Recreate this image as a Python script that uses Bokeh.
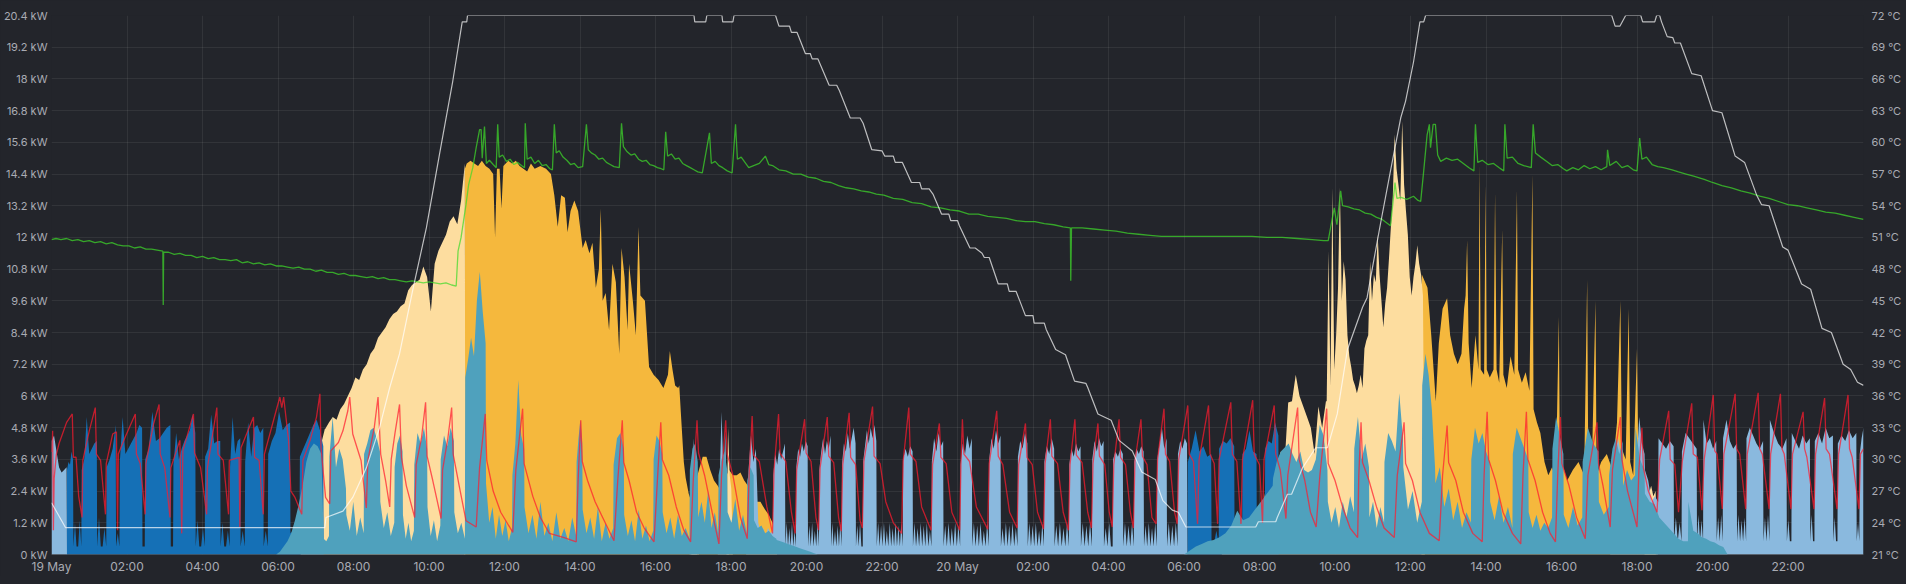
from bokeh.plotting import figure
from bokeh.models import Range1d, LinearAxis, FixedTicker
from bokeh.embed import file_html
from bokeh.resources import INLINE

# ---------------- axes / ticks ----------------
x_ticks = [0, 2, 4, 6, 8, 10, 12, 14, 16, 18, 20, 22, 24, 26, 28, 30, 32, 34, 36, 38, 40, 42, 44, 46]
x_labels = ["19 May", "02:00", "04:00", "06:00", "08:00", "10:00", "12:00", "14:00", "16:00", "18:00",
            "20:00", "22:00", "20 May", "02:00", "04:00", "06:00", "08:00", "10:00", "12:00", "14:00",
            "16:00", "18:00", "20:00", "22:00"]
kw_ticks = [0, 1.2, 2.4, 3.6, 4.8, 6, 7.2, 8.4, 9.6, 10.8, 12, 13.2, 14.4, 15.6, 16.8, 18, 19.2, 20.4]
kw_labels = ["0 kW", "1.2 kW", "2.4 kW", "3.6 kW", "4.8 kW", "6 kW", "7.2 kW", "8.4 kW", "9.6 kW",
             "10.8 kW", "12 kW", "13.2 kW", "14.4 kW", "15.6 kW", "16.8 kW", "18 kW", "19.2 kW", "20.4 kW"]
c_ticks = [21, 24, 27, 30, 33, 36, 39, 42, 45, 48, 51, 54, 57, 60, 63, 66, 69, 72]
c_labels = ["21 °C", "24 °C", "27 °C", "30 °C", "33 °C", "36 °C", "39 °C", "42 °C", "45 °C", "48 °C",
            "51 °C", "54 °C", "57 °C", "60 °C", "63 °C", "66 °C", "69 °C", "72 °C"]

# ---------------- power series (kW), hours since 19 May 00:00 ----------------
# segments: (start hour, end hour, values read across the segment)
light_yellow_segments = [
    (6.60, 7.24, [0.0, 1.0, 2.0, 3.0, 4.0, 4.75]),
    (7.25, 10.95, [4.75, 5.0, 5.2, 5.1, 5.5, 5.7, 6.0, 6.3, 6.7, 6.6, 7.0, 7.2, 7.6, 7.8, 8.2, 8.4, 8.6, 8.9, 9.1,
                   9.2, 9.4, 9.5, 10.0, 10.2, 10.3, 10.4, 10.9, 10.5, 9.2, 11.0, 11.5, 11.8, 12.1, 12.6, 12.8, 12.5,
                   13.4, 14.8]),
    (10.96, 10.96, [0.0]),
    (16.95, 17.15, [0.0, 2.5, 3.0, 2.8, 0.0]),
    (17.88, 18.05, [0.0, 4.8, 3.0, 2.5, 0.0]),
    (31.00, 31.85, [0.0, 0.6, 0.9, 1.0, 1.1, 1.0]),
    (31.86, 33.76, [1.0, 1.2, 1.3, 2.5, 1.7, 2.0, 3.2, 3.9, 3.3, 5.75, 5.8, 6.8, 6.0, 5.6, 5.2, 4.8, 3.8, 5.6, 4.8,
                    5.8]),
    (33.78, 36.38, [5.8, 11.5, 6.4, 13.9, 7.0, 8.3, 10.1, 13.9, 9.6, 11.1, 10.4, 8.3, 7.5, 7.1, 6.6, 6.4, 6.1, 6.4,
                    6.8, 6.3, 7.8, 8.1, 8.3, 11.1, 9.6, 10.6, 10.3, 12.1, 10.6, 9.6, 8.6, 9.5, 10.1, 11.2, 12.4, 13.5,
                    15.9, 14.6, 14.0, 13.4, 16.4, 14.0, 13.0, 12.1, 10.5, 9.8, 10.5, 11.0, 11.7, 11.0, 10.6, 9.8,
                    0.0]),
    (42.20, 42.55, [0.0, 2.0, 2.3, 2.6, 2.2, 2.4, 0.0]),
]

orange_points = [
    (10.94, 0.0), (10.95, 14.6), (11.0, 14.8), (11.1, 14.9), (11.2, 14.8), (11.3, 14.7), (11.4, 14.9), (11.5, 14.7),
    (11.6, 14.6), (11.7, 14.4), (11.75, 12.0), (11.8, 14.6), (11.87, 14.6), (11.92, 13.1), (11.97, 14.7),
    (12.1, 14.9), (12.2, 14.8), (12.3, 14.9), (12.4, 14.7), (12.5, 14.6), (12.6, 14.5), (12.7, 14.8), (12.8, 14.6),
    (12.95, 14.7), (13.1, 14.6), (13.23, 14.4), (13.32, 13.6), (13.41, 12.4), (13.5, 13.6), (13.6, 13.5),
    (13.67, 12.2), (13.75, 13.0), (13.85, 13.4), (13.95, 13.0), (14.07, 11.6), (14.15, 11.9), (14.25, 11.4),
    (14.33, 11.8), (14.42, 10.1), (14.5, 10.8), (14.55, 13.1), (14.6, 9.6), (14.68, 9.9), (14.77, 8.5),
    (14.86, 11.0), (14.95, 10.3), (15.04, 7.6), (15.1, 11.6), (15.18, 10.5), (15.26, 8.5), (15.3, 11.0),
    (15.4, 9.6), (15.48, 8.3), (15.55, 12.4), (15.6, 9.8), (15.72, 9.6), (15.83, 7.1), (15.95, 6.8), (16.08, 6.6),
    (16.21, 6.3), (16.33, 6.8), (16.38, 7.7), (16.45, 7.0), (16.52, 6.4), (16.6, 6.3), (16.63, 6.4), (16.67, 5.4),
    (16.75, 3.5), (16.8, 2.9), (16.88, 2.3), (16.97, 1.9), (17.05, 2.7), (17.15, 3.2), (17.25, 3.7), (17.35, 3.7),
    (17.45, 3.2), (17.55, 2.8), (17.65, 2.6), (17.77, 2.3), (17.85, 2.9), (17.95, 3.2), (18.05, 3.0), (18.15, 3.0),
    (18.25, 3.1), (18.35, 2.8), (18.5, 2.5), (18.65, 2.0), (18.78, 2.0), (18.9, 1.7), (19.0, 1.5), (19.1, 1.2),
    (19.17, 0.8), (19.22, 0.0),
    (36.29, 0.0), (36.30, 10.6), (36.45, 10.1), (36.55, 8.3), (36.67, 5.8), (36.75, 8.0), (36.85, 9.3),
    (36.97, 9.7), (37.05, 8.3), (37.15, 7.6), (37.25, 7.2), (37.35, 7.6), (37.42, 9.3), (37.46, 9.8), (37.5, 11.9),
    (37.54, 8.0), (37.62, 6.3), (37.72, 8.3), (37.8, 7.0), (37.83, 14.8), (37.86, 7.0), (37.95, 6.8), (37.99, 14.0),
    (38.02, 7.0), (38.1, 6.7), (38.2, 7.0), (38.24, 13.7), (38.28, 7.0), (38.35, 6.5), (38.43, 12.3), (38.46, 6.8),
    (38.55, 6.3), (38.65, 7.5), (38.75, 6.8), (38.82, 13.8), (38.85, 7.0), (38.95, 6.5), (39.05, 6.9), (39.15, 6.2),
    (39.23, 14.4), (39.26, 5.5), (39.35, 5.0), (39.44, 4.6), (39.55, 3.5), (39.65, 3.0), (39.75, 3.3), (39.85, 2.8),
    (39.93, 9.0), (39.96, 3.0), (40.05, 3.3), (40.15, 2.8), (40.3, 3.2), (40.45, 3.5), (40.6, 3.0), (40.68, 10.4),
    (40.71, 3.2), (40.8, 3.0), (40.9, 9.6), (40.93, 3.0), (41.05, 3.5), (41.2, 3.8), (41.35, 3.2), (41.47, 5.0),
    (41.56, 9.6), (41.6, 4.0), (41.7, 3.6), (41.78, 9.3), (41.82, 3.5), (41.9, 3.0), (42.0, 7.8), (42.04, 3.0),
    (42.15, 2.5), (42.3, 1.5), (42.5, 0.0),
]

dark_blue_segments = [
    (0.40, 0.40, [0.0]),
    (0.41, 0.57, [3.2, 3.5, 3.4, 3.9, 3.6]),
    (0.58, 0.79, [0.3, 1.2, 0.3, 0.3, 1.3, 0.3]),
    (0.80, 1.20, [3.2, 3.6, 5.2, 3.8, 4.0, 4.2, 4.3]),
    (1.21, 1.45, [0.3, 1.4, 0.3, 0.3, 1.0, 0.3]),
    (1.46, 1.70, [3.3, 3.6, 4.0, 4.9]),
    (1.71, 1.80, [0.3, 0.8, 0.3]),
    (1.81, 2.40, [3.5, 5.2, 3.8, 4.0, 4.2, 4.4, 4.6, 4.9, 4.8]),
    (2.41, 2.47, [0.3, 0.3]),
    (2.48, 3.15, [3.6, 4.0, 5.4, 4.3, 4.4, 4.6, 4.8, 4.9]),
    (3.16, 3.22, [0.3, 0.3]),
    (3.23, 3.81, [3.4, 4.6, 3.6, 4.0, 4.3, 4.5, 4.7, 5.3, 4.6]),
    (3.82, 4.06, [0.3, 1.3, 0.3, 0.3, 1.0, 0.3]),
    (4.07, 4.47, [3.7, 4.0, 5.3, 4.2, 4.3, 4.3]),
    (4.48, 4.72, [0.3, 1.2, 0.3, 0.3, 0.9, 0.3]),
    (4.73, 5.00, [3.3, 5.2, 3.8, 4.3, 4.4]),
    (5.01, 5.12, [0.3, 0.9, 0.3]),
    (5.13, 5.61, [3.5, 5.0, 3.7, 4.8, 4.9, 4.6, 4.8]),
    (5.62, 5.73, [0.3, 0.9, 0.3]),
    (5.74, 6.32, [3.8, 4.3, 4.6, 5.4, 4.7, 4.9, 5.0]),
    (6.33, 6.57, [0.8, 0.9, 1.2, 1.4]),
    (6.58, 7.20, [3.7, 4.0, 4.3, 4.6, 4.9, 5.1, 4.7, 4.1]),
    (7.21, 7.21, [0.0]),
    (30.09, 30.09, [0.0]),
    (30.10, 30.72, [3.5, 4.0, 4.7, 3.9, 4.1, 3.7, 3.8]),
    (30.73, 30.92, [0.4, 0.4, 0.9, 0.4]),
    (30.93, 31.33, [4.0, 4.3, 4.2, 4.4, 4.1]),
    (31.34, 31.54, [0.5, 0.5, 0.5]),
    (31.55, 31.92, [3.8, 4.0, 4.7, 3.9, 3.8]),
    (31.93, 32.14, [0.5, 0.5, 0.5]),
    (32.15, 32.50, [4.0, 4.3, 4.2, 5.0, 4.5]),
    (32.51, 32.51, [0.0]),
]

light_blue_segments = [
    (0.00, 0.40, [4.3, 4.5, 3.9, 3.3, 3.1, 3.2, 3.3]),
    (0.41, 0.41, [0.0]),
    (16.90, 17.10, [0.0, 2.5, 4.4, 2.0, 0.0]),
    (17.65, 17.95, [0.0, 2.8, 5.4, 3.0, 4.6, 1.0, 0.0]),
    (18.40, 19.11, [0.0, 3.2, 4.5, 3.5, 4.0, 1.2, 0.8, 1.0, 0.7, 1.0, 0.8, 0.9]),
    (19.12, 19.43, [3.0, 3.8, 3.4, 4.0, 3.6, 3.9, 4.2]),
    (19.44, 19.72, [0.3, 1.2, 0.3, 1.0, 0.3, 1.2, 0.3, 0.9, 0.3]),
    (19.73, 20.03, [3.3, 4.0, 3.7, 4.2, 3.9, 4.3, 4.1]),
    (20.04, 20.33, [0.3, 1.1, 0.3, 1.2, 0.3, 0.9, 0.3, 1.2, 0.3]),
    (20.34, 20.64, [3.2, 3.9, 4.4, 3.8, 4.3, 4.0, 4.5]),
    (20.65, 20.93, [0.3, 1.2, 0.3, 0.9, 0.3, 1.1, 0.3, 1.2, 0.3]),
    (20.94, 21.30, [3.4, 4.2, 3.9, 4.6, 4.0, 4.4, 4.8, 4.2]),
    (21.31, 21.49, [0.3, 1.1, 0.3, 1.2, 0.3, 0.3]),
    (21.50, 21.85, [3.5, 4.1, 4.7, 4.2, 4.8, 4.4, 4.9, 4.3]),
    (21.86, 22.55, [0.3, 1.2, 0.3, 1.1, 0.3, 1.2, 0.3, 0.9, 0.3, 1.2, 0.3, 1.0, 0.3, 1.2, 0.3, 1.1, 0.3, 1.2, 0.3]),
    (22.56, 22.81, [3.6, 4.0, 3.7, 4.1, 3.9]),
    (22.82, 23.31, [0.3, 1.2, 0.3, 1.0, 0.3, 1.2, 0.3, 1.1, 0.3, 1.2, 0.3, 0.9, 0.3]),
    (23.32, 23.62, [3.5, 4.4, 3.9, 4.6, 4.1, 4.3]),
    (23.63, 24.07, [0.3, 1.1, 0.3, 1.2, 0.3, 1.0, 0.3, 1.2, 0.3, 1.1, 0.3]),
    (24.08, 24.38, [3.4, 4.2, 3.8, 4.5, 4.0, 4.4]),
    (24.39, 24.83, [0.3, 1.2, 0.3, 1.1, 0.3, 1.2, 0.3, 0.9, 0.3, 1.2, 0.3]),
    (24.84, 25.14, [3.6, 4.4, 4.0, 4.7, 4.2, 4.5]),
    (25.15, 25.59, [0.3, 1.0, 0.3, 1.2, 0.3, 1.1, 0.3, 1.2, 0.3, 1.0, 0.3]),
    (25.60, 25.85, [3.7, 4.3, 4.0, 4.6, 4.2]),
    (25.86, 26.29, [0.3, 1.2, 0.3, 1.1, 0.3, 1.2, 0.3, 0.9, 0.3, 1.2, 0.3]),
    (26.30, 26.56, [3.5, 4.1, 3.8, 4.4, 4.0]),
    (26.57, 26.95, [0.3, 1.1, 0.3, 1.2, 0.3, 1.0, 0.3, 1.2, 0.3]),
    (26.96, 27.26, [3.4, 4.0, 3.7, 4.2, 3.9, 4.1]),
    (27.27, 27.56, [0.3, 1.2, 0.3, 1.1, 0.3, 1.2, 0.3]),
    (27.57, 27.87, [3.6, 4.3, 3.9, 4.4, 4.1, 4.3]),
    (27.88, 28.11, [0.3, 1.0, 0.3, 1.2, 0.3, 0.3]),
    (28.12, 28.38, [3.6, 3.9, 3.7, 4.0, 3.8]),
    (28.39, 28.67, [0.3, 1.2, 0.3, 1.1, 0.3, 1.2, 0.3]),
    (28.68, 28.93, [3.5, 4.0, 3.8, 4.1, 3.9]),
    (28.94, 29.28, [0.3, 1.1, 0.3, 1.2, 0.3, 1.0, 0.3, 1.2, 0.3]),
    (29.29, 29.54, [3.6, 4.2, 4.8, 4.0, 4.4]),
    (29.55, 29.83, [0.3, 1.2, 0.3, 1.1, 0.3, 1.2, 0.3]),
    (29.84, 30.08, [3.8, 4.3, 4.0, 4.4, 4.2]),
    (30.09, 30.09, [0.0]),
    (41.29, 41.60, [0.0, 2.5, 4.2, 3.8, 4.4, 4.0, 3.6]),
    (41.61, 41.98, [0.5, 0.5, 0.5]),
    (41.99, 42.20, [3.5, 5.2, 4.2, 3.8]),
    (42.21, 42.56, [3.2, 2.8, 2.0, 2.2, 2.0]),
    (42.57, 42.97, [4.4, 4.2, 4.0, 4.3, 4.1]),
    (42.98, 43.18, [0.5, 1.4, 0.5, 1.2, 0.5]),
    (43.19, 43.58, [3.9, 4.6, 4.4, 4.2, 4.0]),
    (43.59, 43.75, [0.5, 1.5, 0.5, 1.3, 0.5]),
    (43.76, 44.10, [5.1, 4.2, 4.4, 4.0, 4.3]),
    (44.11, 44.27, [0.5, 1.4, 0.5, 1.5, 0.5]),
    (44.28, 44.64, [4.4, 5.1, 4.3, 4.0, 4.2]),
    (44.65, 44.89, [0.5, 1.5, 0.5, 1.3, 0.5, 1.4, 0.5]),
    (44.90, 45.34, [4.4, 4.8, 4.5, 4.2, 4.0, 4.3]),
    (45.35, 45.51, [0.5, 1.4, 0.5, 1.5, 0.5]),
    (45.52, 45.96, [5.1, 4.6, 4.2, 4.0, 4.4]),
    (45.97, 46.09, [0.5, 1.3, 0.5, 0.5]),
    (46.10, 46.58, [4.6, 4.3, 4.0, 4.5, 4.2, 4.4]),
    (46.59, 46.70, [0.5, 1.5, 0.5, 0.5]),
    (46.71, 47.19, [4.3, 4.6, 4.2, 4.8, 4.4, 4.5]),
    (47.20, 47.31, [0.5, 1.4, 0.5, 0.5]),
    (47.32, 47.81, [4.2, 4.5, 4.3, 4.7, 4.4, 4.6]),
    (47.82, 47.89, [0.5, 1.2, 0.5]),
    (47.90, 48.00, [3.8, 4.4, 4.8]),
]

teal_segments = [
    (5.95, 7.15, [0.0, 0.1, 0.3, 0.5, 0.8, 1.3, 1.9, 2.6, 3.5, 4.0, 4.2, 4.1, 3.8]),
    (7.21, 7.35, [0.6, 0.5, 0.7]),
    (7.36, 7.80, [3.7, 5.2, 3.3, 4.0, 3.6, 2.5]),
    (7.81, 8.27, [1.5, 0.9, 2.0, 0.7, 1.4, 0.8]),
    (8.28, 8.70, [3.8, 4.2, 4.7, 4.8, 4.4, 3.9]),
    (8.71, 9.08, [2.0, 1.0, 1.6, 0.7, 1.2]),
    (9.09, 9.30, [3.3, 4.2, 4.5, 3.9]),
    (9.31, 9.60, [1.5, 0.6, 1.2, 0.5, 0.9]),
    (9.61, 9.95, [3.4, 4.6, 4.2, 4.8, 4.0]),
    (9.96, 10.30, [1.8, 0.7, 1.3, 0.5, 1.1]),
    (10.31, 10.66, [3.6, 4.5, 4.1, 4.8, 4.3]),
    (10.67, 10.95, [1.6, 0.8, 1.2, 0.6]),
    (10.96, 11.50, [6.7, 7.4, 8.2, 7.5, 9.6, 10.7, 9.2, 8.0]),
    (11.51, 12.20, [2.7, 1.2, 1.8, 0.6, 1.5, 0.7, 1.3, 0.5, 1.0]),
    (12.21, 12.52, [3.0, 4.2, 6.6, 4.5, 4.0]),
    (12.53, 13.90, [1.8, 0.8, 1.5, 0.6, 2.0, 0.7, 1.2, 0.5, 1.6, 0.6, 1.0, 0.5, 1.4, 0.7]),
    (13.91, 14.06, [3.5, 4.4, 5.1, 4.2]),
    (14.07, 14.88, [1.7, 0.8, 1.4, 0.6, 1.8, 0.5, 1.2, 0.6, 1.0]),
    (14.89, 15.16, [3.4, 4.4, 4.6, 4.0]),
    (15.17, 15.94, [1.5, 0.7, 1.3, 0.5, 1.7, 0.6, 1.1, 0.5, 0.9]),
    (15.95, 16.18, [3.6, 4.5, 4.3, 3.8]),
    (16.19, 16.90, [1.6, 0.8, 1.4, 0.6, 1.5, 0.7, 1.0, 0.6]),
    (16.91, 17.12, [3.2, 4.0, 4.2, 3.5]),
    (17.13, 17.66, [1.4, 2.0, 1.2, 2.4, 1.0, 1.6, 0.8]),
    (17.67, 17.90, [3.0, 3.6, 3.9, 3.2]),
    (17.91, 18.42, [1.6, 1.2, 2.1, 0.9, 1.5, 0.8]),
    (18.43, 18.60, [2.8, 3.3, 3.0]),
    (18.61, 19.20, [1.3, 1.0, 1.1, 0.8, 0.9, 0.7, 0.6]),
    (19.21, 20.30, [0.55, 0.5, 0.45, 0.4, 0.35, 0.3, 0.25, 0.2, 0.15, 0.1, 0.05, 0.0]),
    (30.00, 32.35, [0.0, 0.15, 0.3, 0.4, 0.5, 0.55, 0.65, 0.8, 1.1, 1.66, 1.3, 1.4, 1.7, 2.0, 2.3, 2.6]),
    (32.36, 33.80, [2.9, 3.55, 3.9, 4.05, 4.2, 3.8, 3.5, 3.9, 3.2, 3.1, 3.2, 3.6, 4.9, 4.5, 3.2]),
    (33.81, 34.50, [2.0, 1.2, 1.8, 1.0, 2.0, 1.4, 2.2, 1.6]),
    (34.51, 34.90, [4.0, 5.2, 3.6, 4.2, 3.3]),
    (34.91, 35.30, [1.4, 2.0, 1.0, 1.8, 1.2]),
    (35.31, 35.80, [3.5, 4.6, 4.3, 3.9, 6.1, 4.4]),
    (35.81, 36.30, [3.3, 1.7, 2.4, 1.2, 2.0]),
    (36.31, 36.65, [6.4, 7.6, 6.8, 5.5, 3.3]),
    (36.66, 37.60, [2.7, 3.3, 1.8, 2.5, 1.3, 2.0, 1.0, 1.6, 1.2]),
    (37.61, 38.10, [3.6, 4.8, 4.2, 4.6, 3.9, 3.5]),
    (38.11, 38.70, [2.0, 1.3, 2.2, 1.2, 1.8, 1.0]),
    (38.71, 39.12, [3.8, 4.8, 4.4, 4.0, 3.6]),
    (39.13, 39.75, [1.6, 1.0, 1.5, 0.9, 1.2, 1.0, 1.4]),
    (39.76, 40.05, [4.0, 5.2, 4.5, 3.8]),
    (40.06, 40.55, [1.5, 1.0, 1.8, 1.1, 1.4]),
    (40.56, 40.98, [3.5, 4.8, 4.2, 3.9]),
    (40.99, 41.25, [2.0, 1.5, 1.8]),
    (41.26, 41.62, [3.0, 4.0, 4.4, 3.8, 4.3]),
    (41.63, 41.95, [2.6, 3.2, 2.8, 3.0]),
    (41.96, 42.20, [4.8, 3.6, 3.2]),
    (42.21, 43.35, [2.3, 2.0, 1.9, 1.4, 1.2, 1.0, 0.8, 0.6, 0.5, 0.5]),
    (43.36, 43.48, [2.0, 1.0]),
    (43.49, 44.40, [0.9, 0.8, 0.65, 0.6, 0.5, 0.45, 0.35, 0.28, 0.0]),
]

# ---------------- temperatures (°C, right axis) ----------------
red_points = [
    (0, 30.7), (0.03, 32.7), (0.05, 23.3), (0.07, 28.2), (0.13, 30.5), (0.2, 31.5), (0.3, 32.5), (0.4, 33.5),
    (0.55, 34.3), (0.58, 30.2), (0.65, 30.2), (0.72, 26.5), (0.81, 24.5), (0.83, 29.9), (1.0, 32.7), (1.16, 34.9),
    (1.19, 30.5), (1.3, 29.9), (1.43, 24.8), (1.45, 29.6), (1.62, 32.4), (1.72, 32.6), (1.75, 23.3), (1.77, 30.5),
    (1.95, 32.1), (2.22, 34.3), (2.25, 30.5), (2.35, 29.6), (2.48, 24.8), (2.5, 29.6), (2.7, 33.3), (2.85, 35.2),
    (2.88, 30.5), (3.0, 29.2), (3.14, 24.5), (3.16, 29.2), (3.4, 31.8), (3.45, 23.0), (3.48, 30.8), (3.76, 34.3),
    (3.79, 30.6), (3.95, 29.2), (4.11, 24.8), (4.13, 29.2), (4.38, 34.9), (4.41, 30.5), (4.55, 29.9), (4.69, 24.8),
    (4.71, 29.9), (4.97, 30.2), (4.99, 23.6), (5.02, 31.1), (5.35, 34.0), (5.38, 30.2), (5.5, 29.9), (5.61, 24.8),
    (5.64, 30.5), (5.95, 34.6), (6.05, 35.9), (6.1, 34.9), (6.15, 35.9), (6.28, 31.8), (6.34, 27.0), (6.45, 26.4),
    (6.63, 24.8), (6.66, 29.9), (6.85, 31.8), (7.02, 34.0), (7.11, 36.2), (7.14, 31.1), (7.26, 26.4), (7.37, 25.8),
    (7.4, 30.8), (7.6, 31.6), (7.72, 32.7), (7.85, 34.6), (7.9, 35.9), (7.98, 32.4), (8.2, 29.9), (8.34, 25.4),
    (8.38, 29.9), (8.55, 33.0), (8.65, 35.9), (8.72, 30.5), (8.85, 28.0), (8.96, 25.5), (9.0, 30.0), (9.1, 32.5),
    (9.22, 35.2), (9.27, 30.2), (9.4, 27.5), (9.62, 24.5), (9.66, 29.5), (9.8, 32.0), (9.91, 35.4), (9.95, 30.3),
    (10.1, 28.0), (10.32, 24.4), (10.36, 29.0), (10.5, 32.0), (10.6, 34.9), (10.64, 30.5), (10.8, 27.5),
    (10.98, 24.2), (11.25, 23.6), (11.34, 29.2), (11.49, 34.3), (11.53, 29.9), (11.7, 27.0), (11.9, 25.0),
    (12.22, 23.1), (12.3, 29.0), (12.48, 34.8), (12.52, 29.6), (12.75, 26.5), (12.95, 24.5), (13.19, 23.0),
    (13.58, 22.6), (13.9, 22.2), (13.95, 28.0), (14.02, 33.7), (14.06, 29.8), (14.2, 28.0), (14.4, 26.0),
    (14.6, 24.5), (14.9, 22.3), (15.0, 28.0), (15.12, 33.7), (15.16, 29.7), (15.3, 28.0), (15.5, 25.0),
    (15.7, 23.5), (15.96, 22.2), (16.05, 28.0), (16.14, 33.5), (16.18, 30.0), (16.35, 28.5), (16.55, 25.5),
    (16.75, 23.3), (16.93, 22.2), (17.0, 28.0), (17.1, 33.7), (17.14, 30.6), (17.3, 28.5), (17.5, 25.0),
    (17.68, 22.0), (17.75, 28.5), (17.86, 33.7), (17.9, 30.5), (18.05, 28.5), (18.25, 24.5), (18.43, 22.5),
    (18.48, 28.5), (18.56, 34.1), (18.6, 30.4), (18.75, 29.8), (18.95, 25.5), (19.1, 23.0), (19.14, 29.0),
    (19.26, 34.3), (19.3, 30.6), (19.45, 29.8), (19.6, 25.0), (19.7, 23.0), (19.74, 29.0), (19.95, 33.8),
    (19.99, 30.6), (20.12, 29.8), (20.25, 24.5), (20.32, 23.3), (20.36, 29.2), (20.55, 34.0), (20.59, 30.3),
    (20.72, 29.7), (20.85, 24.5), (20.92, 23.2), (20.96, 29.5), (21.13, 34.4), (21.17, 30.2), (21.3, 29.5),
    (21.42, 24.2), (21.48, 23.5), (21.52, 29.8), (21.75, 35.0), (21.79, 30.3), (21.95, 29.6), (22.1, 26.0),
    (22.3, 24.0), (22.52, 23.0), (22.56, 29.8), (22.71, 34.9), (22.75, 30.5), (22.9, 29.8), (23.05, 25.5),
    (23.3, 23.3), (23.34, 29.5), (23.52, 33.4), (23.56, 30.2), (23.7, 29.6), (23.85, 25.0), (24.06, 23.3),
    (24.09, 29.5), (24.13, 33.8), (24.17, 30.5), (24.32, 29.8), (24.5, 25.5), (24.8, 23.4), (24.84, 29.6),
    (25.04, 34.6), (25.08, 30.3), (25.2, 29.5), (25.38, 25.0), (25.58, 23.5), (25.62, 29.5), (25.8, 33.4),
    (25.84, 30.2), (25.98, 29.5), (26.12, 25.0), (26.28, 23.4), (26.32, 29.6), (26.46, 33.8), (26.5, 30.3),
    (26.65, 29.6), (26.8, 25.0), (26.94, 23.3), (26.98, 29.5), (27.11, 33.8), (27.15, 30.4), (27.3, 29.7),
    (27.45, 25.0), (27.55, 23.5), (27.59, 29.6), (27.72, 33.4), (27.76, 30.3), (27.9, 29.5), (28.02, 25.0),
    (28.1, 23.6), (28.14, 29.5), (28.28, 33.8), (28.32, 30.2), (28.45, 29.5), (28.58, 25.0), (28.66, 23.5),
    (28.7, 29.8), (28.86, 33.8), (28.9, 30.3), (29.02, 29.5), (29.15, 24.5), (29.26, 23.9), (29.3, 30.0),
    (29.47, 34.8), (29.51, 30.5), (29.62, 29.8), (29.75, 25.0), (29.82, 23.9), (29.86, 30.0), (30.1, 35.1),
    (30.14, 30.5), (30.25, 29.8), (30.36, 23.9), (30.4, 30.0), (30.65, 35.1), (30.69, 30.5), (30.8, 29.6),
    (30.89, 23.9), (30.93, 30.0), (31.24, 35.4), (31.28, 30.5), (31.4, 29.8), (31.51, 23.9), (31.55, 30.0),
    (31.82, 35.6), (31.86, 30.5), (32.0, 29.5), (32.08, 24.0), (32.12, 30.0), (32.39, 35.1), (32.43, 30.5),
    (32.55, 29.0), (32.7, 24.4), (32.75, 28.5), (33.01, 34.9), (33.05, 30.0), (33.2, 28.0), (33.35, 25.0),
    (33.5, 23.6), (33.6, 28.5), (33.78, 34.8), (33.82, 29.6), (34.0, 28.0), (34.2, 25.5), (34.4, 23.5),
    (34.6, 22.6), (34.63, 28.5), (34.69, 33.5), (34.73, 29.7), (34.9, 28.0), (35.1, 25.5), (35.3, 23.5),
    (35.57, 22.6), (35.65, 28.5), (35.83, 33.5), (35.87, 29.6), (36.05, 28.0), (36.25, 25.0), (36.5, 23.0),
    (36.76, 22.3), (36.85, 28.5), (36.97, 33.2), (37.01, 29.7), (37.2, 28.0), (37.4, 25.0), (37.65, 23.0),
    (37.9, 22.2), (37.95, 28.5), (38.03, 34.5), (38.07, 30.0), (38.25, 28.0), (38.45, 25.0), (38.7, 23.0),
    (38.92, 22.0), (38.98, 28.5), (39.07, 34.5), (39.11, 30.0), (39.3, 28.0), (39.5, 25.0), (39.7, 23.0),
    (39.84, 22.2), (39.9, 28.5), (39.97, 34.0), (40.01, 29.6), (40.2, 27.5), (40.4, 24.5), (40.63, 22.5),
    (40.7, 28.5), (40.94, 33.5), (40.98, 29.6), (41.1, 27.5), (41.29, 23.6), (41.35, 29.0), (41.56, 34.0),
    (41.6, 30.0), (41.75, 27.0), (42.0, 23.6), (42.05, 29.0), (42.13, 33.0), (42.17, 29.2), (42.3, 27.0),
    (42.53, 25.0), (42.6, 30.0), (42.84, 34.6), (42.88, 30.0), (43.0, 29.5), (43.1, 25.0), (43.2, 29.8),
    (43.45, 35.3), (43.49, 30.5), (43.6, 30.2), (43.72, 25.2), (43.78, 30.0), (44.02, 36.1), (44.06, 30.8),
    (44.12, 30.5), (44.26, 25.3), (44.3, 30.5), (44.6, 36.2), (44.64, 31.0), (44.72, 30.5), (44.88, 25.3),
    (44.92, 30.5), (45.21, 36.3), (45.25, 31.0), (45.32, 30.5), (45.5, 25.3), (45.54, 30.5), (45.8, 36.2),
    (45.84, 31.0), (45.9, 30.5), (46.08, 25.3), (46.12, 30.5), (46.4, 34.5), (46.44, 31.0), (46.5, 30.2),
    (46.69, 25.3), (46.73, 30.5), (46.97, 35.8), (47.01, 31.0), (47.1, 30.5), (47.3, 25.3), (47.34, 30.5),
    (47.59, 36.1), (47.63, 31.0), (47.7, 30.2), (47.88, 25.3), (47.92, 30.5), (48.0, 31.0),
]

green_points = [
    (0.0, 50.8), (0.12, 50.9), (0.25, 50.8), (0.4, 50.9), (0.55, 50.7), (0.7, 50.8), (0.85, 50.6), (1.0, 50.7),
    (1.15, 50.5), (1.3, 50.6), (1.45, 50.4), (1.6, 50.5), (1.75, 50.3), (1.9, 50.2), (2.05, 50.2), (2.2, 50.0),
    (2.35, 50.1), (2.5, 49.9), (2.65, 49.9), (2.8, 49.8), (2.95, 49.7), (2.96, 44.6), (2.97, 49.6), (3.1, 49.6),
    (3.25, 49.4), (3.4, 49.5), (3.55, 49.3), (3.7, 49.3), (3.85, 49.1), (4.0, 49.2), (4.15, 49.0), (4.3, 49.1),
    (4.45, 48.9), (4.6, 48.9), (4.75, 48.8), (4.9, 48.9), (5.05, 48.6), (5.2, 48.7), (5.35, 48.5), (5.5, 48.6),
    (5.65, 48.4), (5.8, 48.5), (5.95, 48.3), (6.1, 48.3), (6.25, 48.2), (6.4, 48.1), (6.55, 48.2), (6.7, 48.0),
    (6.85, 48.0), (7.0, 47.8), (7.15, 47.9), (7.3, 47.7), (7.45, 47.7), (7.6, 47.5), (7.75, 47.6), (7.9, 47.4),
    (8.05, 47.4), (8.2, 47.3), (8.35, 47.2), (8.5, 47.3), (8.65, 47.1), (8.8, 47.2), (8.95, 47.0), (9.1, 47.0),
    (9.25, 46.9), (9.4, 46.8), (9.55, 46.9), (9.7, 46.8), (9.85, 46.7), (10.0, 46.8), (10.15, 46.7), (10.3, 46.6),
    (10.45, 46.7), (10.6, 46.5), (10.72, 46.4), (10.77, 49.7), (10.85, 51.0), (10.98, 54.1), (11.05, 56.0),
    (11.16, 57.6), (11.25, 59.5), (11.34, 61.2), (11.38, 61.2), (11.41, 58.5), (11.47, 61.5), (11.52, 58.0),
    (11.6, 58.3), (11.7, 57.9), (11.78, 57.6), (11.82, 61.7), (11.86, 58.6), (11.95, 58.8), (12.05, 58.2),
    (12.15, 58.4), (12.25, 57.9), (12.35, 58.1), (12.45, 57.8), (12.53, 57.6), (12.55, 61.8), (12.6, 58.4),
    (12.7, 58.6), (12.8, 58.0), (12.9, 58.3), (13.0, 57.8), (13.1, 57.9), (13.2, 57.5), (13.27, 57.4),
    (13.32, 61.7), (13.37, 59.0), (13.45, 59.2), (13.55, 58.6), (13.65, 58.3), (13.75, 57.9), (13.85, 58.0),
    (13.95, 57.6), (14.07, 57.7), (14.17, 61.7), (14.22, 59.3), (14.3, 59.0), (14.4, 58.8), (14.5, 58.4),
    (14.6, 58.5), (14.7, 58.1), (14.8, 57.9), (14.9, 57.7), (15.04, 57.6), (15.1, 61.8), (15.15, 59.6),
    (15.25, 59.1), (15.35, 58.8), (15.45, 58.9), (15.55, 58.4), (15.65, 58.2), (15.75, 58.3), (15.85, 57.9),
    (15.95, 57.8), (16.05, 57.6), (16.15, 57.5), (16.22, 57.4), (16.27, 61.0), (16.32, 58.7), (16.42, 58.9),
    (16.52, 58.4), (16.62, 58.5), (16.72, 58.0), (16.82, 57.8), (16.92, 57.6), (17.02, 57.4), (17.12, 57.2),
    (17.24, 57.1), (17.43, 60.9), (17.48, 58.0), (17.58, 58.2), (17.68, 57.8), (17.78, 57.6), (17.9, 57.3),
    (18.03, 57.1), (18.12, 61.7), (18.17, 58.4), (18.27, 58.6), (18.37, 58.1), (18.47, 57.6), (18.6, 57.8),
    (18.75, 58.0), (18.91, 58.7), (19.0, 57.9), (19.1, 57.8), (19.27, 57.4), (19.45, 57.3), (19.65, 57.0),
    (19.85, 57.0), (20.05, 56.7), (20.25, 56.6), (20.45, 56.3), (20.65, 56.2), (20.85, 55.9), (21.05, 55.7),
    (21.25, 55.6), (21.45, 55.4), (21.65, 55.3), (21.85, 55.1), (22.05, 55.0), (22.3, 54.7), (22.55, 54.6),
    (22.8, 54.3), (23.05, 54.2), (23.3, 53.9), (23.55, 53.8), (23.8, 53.6), (24.05, 53.5), (24.3, 53.2),
    (24.55, 53.2), (24.8, 53.0), (25.05, 52.9), (25.3, 52.8), (25.55, 52.6), (25.8, 52.5), (26.05, 52.5),
    (26.3, 52.3), (26.55, 52.2), (26.8, 52.0), (26.99, 51.9), (27.0, 46.9), (27.02, 51.9), (27.3, 51.9),
    (27.6, 51.8), (27.9, 51.7), (28.2, 51.6), (28.5, 51.4), (28.8, 51.3), (29.1, 51.2), (29.4, 51.1),
    (29.8, 51.1), (30.3, 51.1), (30.8, 51.1), (31.3, 51.1), (31.8, 51.1), (32.2, 51.0), (32.6, 51.0),
    (33.0, 50.9), (33.4, 50.8), (33.7, 50.7), (33.82, 50.7), (33.98, 53.8), (34.05, 52.2), (34.15, 55.4),
    (34.2, 54.0), (34.35, 53.9), (34.5, 53.7), (34.65, 53.6), (34.8, 53.3), (34.95, 53.2), (35.1, 52.9),
    (35.25, 52.7), (35.4, 52.3), (35.47, 52.1), (35.59, 56.2), (35.64, 54.7), (35.75, 54.8), (35.9, 54.6),
    (36.08, 54.9), (36.2, 54.5), (36.27, 54.4), (36.35, 57.3), (36.44, 60.7), (36.5, 61.7), (36.53, 59.5),
    (36.6, 61.7), (36.66, 61.7), (36.72, 58.8), (36.8, 58.2), (36.95, 58.5), (37.1, 58.3), (37.25, 58.4),
    (37.4, 58.0), (37.55, 57.6), (37.68, 57.3), (37.72, 61.7), (37.78, 58.1), (37.9, 58.3), (38.05, 57.9),
    (38.2, 58.0), (38.35, 57.6), (38.47, 57.3), (38.5, 61.7), (38.56, 58.5), (38.7, 58.6), (38.85, 58.0),
    (39.0, 57.8), (39.2, 57.6), (39.25, 61.7), (39.31, 59.0), (39.45, 58.6), (39.6, 58.2), (39.75, 57.8),
    (39.9, 57.9), (40.05, 57.5), (40.14, 57.3), (40.3, 57.6), (40.45, 57.4), (40.6, 57.8), (40.75, 57.5),
    (40.9, 57.7), (41.05, 57.4), (41.2, 57.7), (41.22, 59.3), (41.28, 57.8), (41.45, 58.2), (41.6, 57.6),
    (41.75, 57.8), (41.9, 57.4), (42.0, 57.3), (42.07, 60.4), (42.13, 58.4), (42.25, 58.6), (42.4, 57.9),
    (42.55, 57.7), (42.7, 57.6), (42.93, 57.4), (43.1, 57.2), (43.3, 57.0), (43.5, 56.8), (43.78, 56.5),
    (44.0, 56.2), (44.25, 55.9), (44.5, 55.7), (44.75, 55.4), (45.0, 55.2), (45.25, 54.9), (45.5, 54.7),
    (45.75, 54.4), (46.0, 54.1), (46.25, 54.0), (46.5, 53.8), (46.75, 53.6), (47.0, 53.4), (47.25, 53.3),
    (47.5, 53.1), (47.75, 52.9), (48.0, 52.7),
]

white_points = [
    (0.0, 25.9), (0.37, 23.55), (7.24, 23.55), (7.27, 24.5), (7.72, 25.1), (7.98, 26.4), (8.34, 29.2),
    (8.69, 33.0), (8.96, 36.8), (9.22, 40.0), (9.58, 46.2), (9.93, 51.9), (10.28, 58.9), (10.63, 65.8),
    (10.88, 71.4), (11.0, 71.4), (11.02, 72.0), (17.02, 72.0), (17.04, 71.4), (17.33, 71.4), (17.36, 72.0),
    (17.76, 72.0), (17.78, 71.4), (18.05, 71.4), (18.08, 72.0), (19.18, 72.0), (19.27, 71.0), (19.55, 71.0),
    (19.6, 70.4), (19.75, 70.4), (19.97, 68.4), (20.1, 68.4), (20.15, 67.9), (20.3, 67.9), (20.6, 65.4),
    (20.8, 65.4), (20.87, 64.9), (21.16, 62.3), (21.42, 62.3), (21.5, 61.8), (21.73, 59.3), (22.0, 59.2),
    (22.07, 58.7), (22.3, 58.7), (22.35, 58.1), (22.54, 58.1), (22.78, 56.2), (23.0, 56.2), (23.05, 55.6),
    (23.25, 55.6), (23.35, 55.1), (23.58, 53.2), (23.77, 53.2), (23.82, 52.6), (24.0, 52.6), (24.05, 52.1),
    (24.33, 50.0), (24.47, 50.0), (24.65, 49.5), (24.71, 49.1), (24.84, 49.1), (25.08, 46.6), (25.32, 46.6),
    (25.37, 45.9), (25.55, 45.9), (25.65, 45.0), (25.8, 43.6), (26.0, 43.6), (26.03, 42.9), (26.3, 42.9),
    (26.35, 42.3), (26.6, 40.4), (26.86, 39.9), (27.1, 37.4), (27.4, 37.2), (27.45, 36.8), (27.72, 34.3),
    (28.07, 33.7), (28.28, 31.8), (28.63, 30.8), (28.88, 28.8), (29.24, 28.1), (29.44, 26.1), (29.69, 25.2),
    (29.85, 25.0), (30.05, 23.6), (31.9, 23.6), (31.97, 24.1), (32.43, 24.1), (32.47, 24.5), (32.74, 26.7),
    (32.85, 26.7), (33.14, 29.2), (33.49, 31.1), (33.8, 31.1), (34.06, 34.3), (34.33, 40.4), (34.73, 44.4),
    (34.85, 45.3), (34.99, 48.1), (35.2, 52.2), (35.47, 57.3), (35.74, 62.3), (35.87, 63.9), (36.08, 67.6),
    (36.25, 71.4), (36.35, 71.4), (36.4, 72.0), (41.33, 72.0), (41.42, 71.0), (41.55, 71.0), (41.7, 72.0),
    (42.1, 72.0), (42.15, 71.4), (42.47, 71.4), (42.52, 72.0), (42.6, 72.0), (42.65, 71.4), (42.8, 70.0),
    (42.95, 69.9), (43.0, 69.4), (43.15, 69.4), (43.45, 66.5), (43.7, 66.3), (44.0, 63.0), (44.25, 62.8),
    (44.6, 58.7), (44.85, 58.1), (45.17, 55.0), (45.3, 54.1), (45.5, 54.0), (45.86, 50.1), (46.0, 49.8),
    (46.36, 46.6), (46.6, 46.1), (46.9, 42.4), (47.15, 42.0), (47.46, 39.0), (47.66, 38.5), (47.84, 37.3),
    (48.0, 37.0),
]

# ---------------- styling ----------------
BG = "#23252b"
TXT = "#a9abb3"
C_LIGHT_YELLOW = "#fddd9f"
C_ORANGE = "#f5b83d"
C_DARK_BLUE = "#1570b6"
C_LIGHT_BLUE = "#8ab9de"
C_TEAL = "#4fa1bd"


def expand(segments):
    xs, ys = [], []
    for t0, t1, vals in segments:
        n = len(vals)
        for i, v in enumerate(vals):
            xs.append(t0 + (t1 - t0) * i / (n - 1) if n > 1 else t0)
            ys.append(v)
    return xs, ys


def unzip(points):
    return [pt[0] for pt in points], [pt[1] for pt in points]


p = figure(width=1904, height=576, x_range=Range1d(0, 48), y_range=Range1d(0, 20.4),
           output_backend="svg", toolbar_location=None, title=None,
           background_fill_color=BG, border_fill_color=BG, outline_line_color=None,
           min_border_left=43, min_border_right=31, min_border_top=15, min_border_bottom=22)
p.extra_y_ranges = {"temp": Range1d(21, 72)}

# areas (back to front)
x, y = unzip(orange_points)
p.varea(x=x, y1=[0] * len(y), y2=y, fill_color=C_ORANGE, fill_alpha=1.0)
x, y = expand(light_yellow_segments)
p.varea(x=x, y1=[0] * len(y), y2=y, fill_color=C_LIGHT_YELLOW, fill_alpha=1.0)
x, y = expand(dark_blue_segments)
p.varea(x=x, y1=[0] * len(y), y2=y, fill_color=C_DARK_BLUE, fill_alpha=1.0)
x, y = expand(light_blue_segments)
p.varea(x=x, y1=[0] * len(y), y2=y, fill_color=C_LIGHT_BLUE, fill_alpha=1.0)
x, y = expand(teal_segments)
p.varea(x=x, y1=[0] * len(y), y2=y, fill_color=C_TEAL, fill_alpha=1.0)

# lines
x, y = unzip(red_points)
p.line(x, y, y_range_name="temp", line_color="#ff1a2e", line_alpha=0.72, line_width=1.3)
x, y = unzip(green_points)
p.line(x, y, y_range_name="temp", line_color="#3fd92a", line_alpha=0.72, line_width=1.3)
x, y = unzip(white_points)
p.line(x, y, y_range_name="temp", line_color="#ffffff", line_alpha=0.7, line_width=1.2)

# axes
p.xaxis.ticker = FixedTicker(ticks=x_ticks)
p.xaxis.major_label_overrides = dict(zip(x_ticks, x_labels))
p.yaxis.ticker = FixedTicker(ticks=kw_ticks)
p.yaxis.major_label_overrides = dict(zip(kw_ticks, kw_labels))

raxis = LinearAxis(y_range_name="temp", ticker=FixedTicker(ticks=c_ticks),
                   major_label_overrides=dict(zip(c_ticks, c_labels)))
p.add_layout(raxis, "right")

for ax in [p.xaxis[0], p.yaxis[0], raxis]:
    ax.axis_label = None
    ax.axis_line_color = None
    ax.major_tick_line_color = None
    ax.minor_tick_line_color = None
    ax.major_tick_in = 0
    ax.major_tick_out = 0
    ax.minor_tick_in = 0
    ax.minor_tick_out = 0
    ax.major_label_text_font = "Inter"
    ax.major_label_text_font_size = "11px"
    ax.major_label_text_color = TXT
    ax.major_label_standoff = 4
p.xaxis[0].major_label_text_font_size = "12px"
p.xaxis[0].axis_line_color = "#ffffff"
p.xaxis[0].axis_line_alpha = 0.15
raxis.major_label_standoff = 8

p.xgrid.grid_line_color = "#ffffff"
p.xgrid.grid_line_alpha = 0.07
p.ygrid.grid_line_color = "#ffffff"
p.ygrid.grid_line_alpha = 0.07

html = file_html(p, INLINE, title="chart")
html = html.replace("<head>", "<head><style>html,body{background-color:#23252b;overflow:hidden;}</style>", 1)
open("out.html", "w").write(html)
